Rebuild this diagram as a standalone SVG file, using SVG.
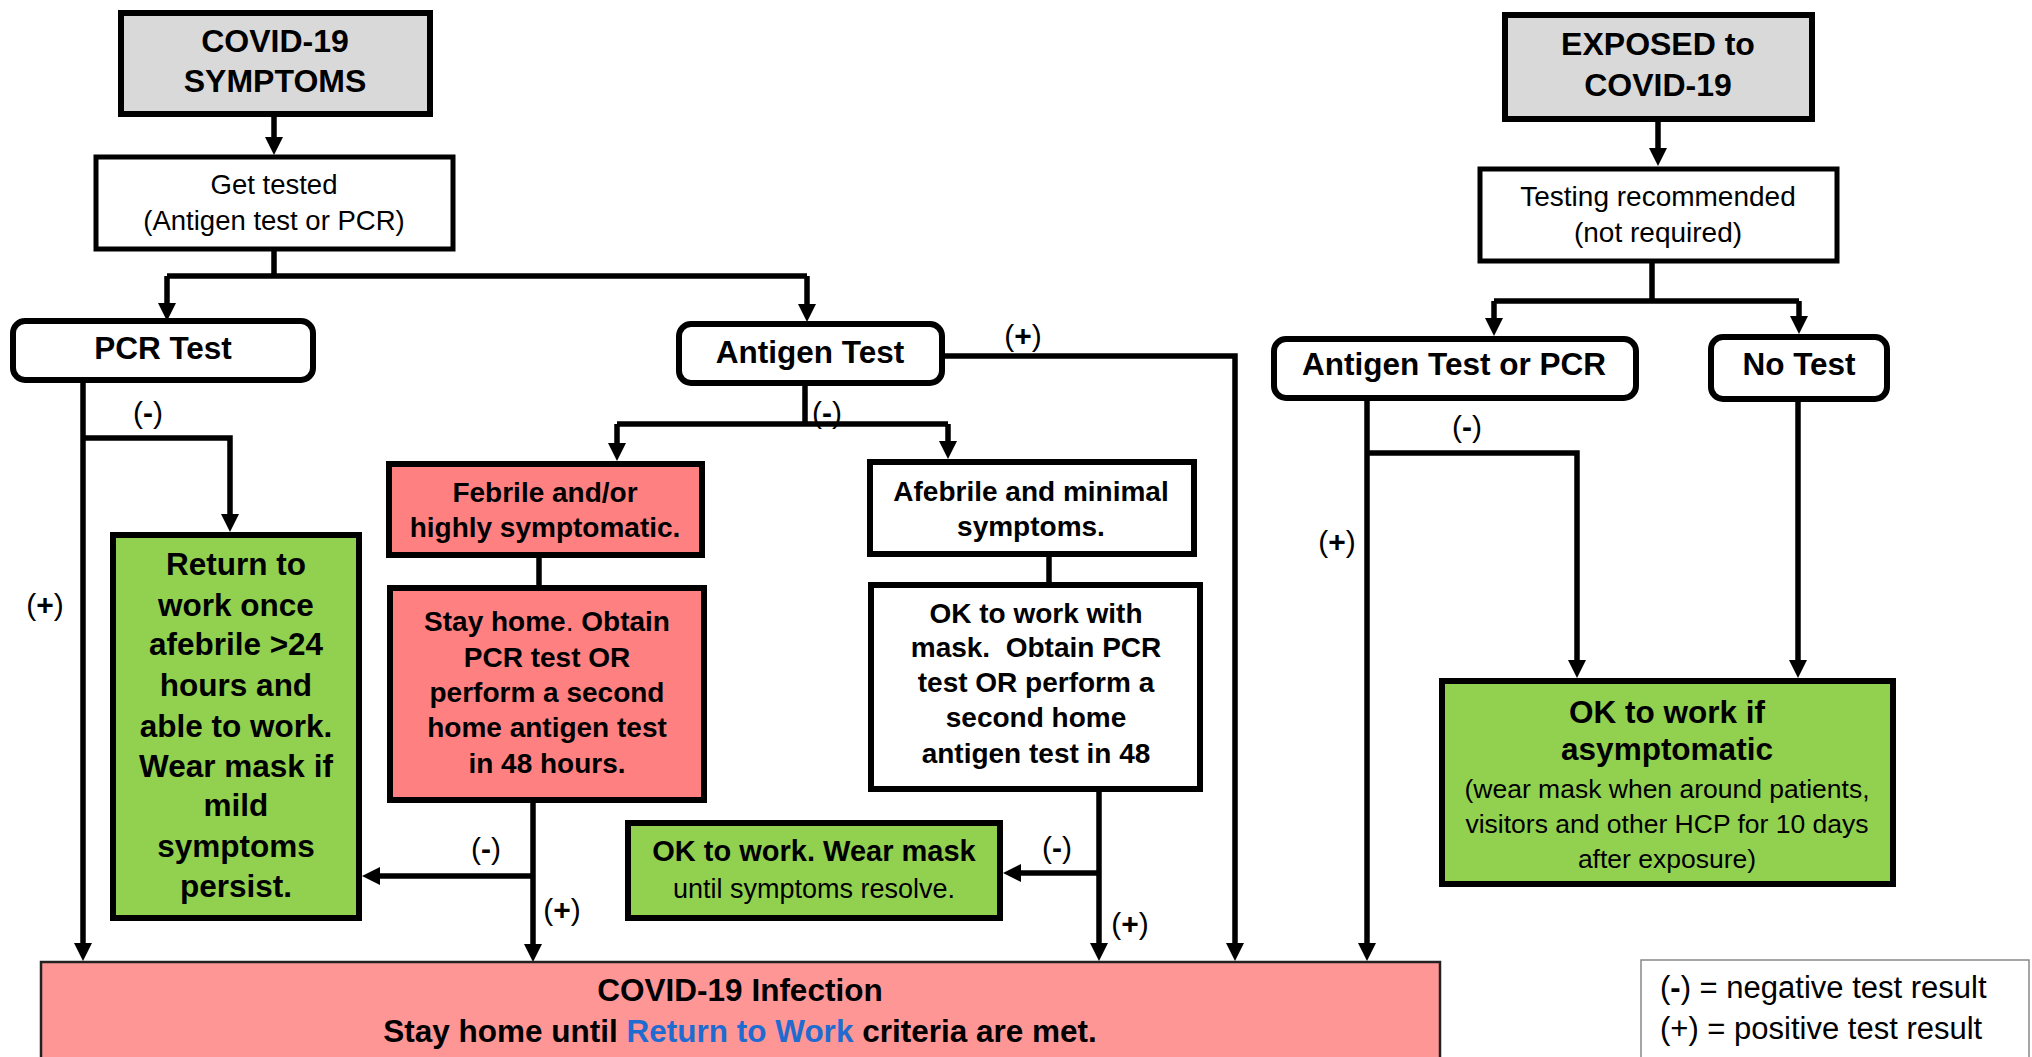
<svg xmlns="http://www.w3.org/2000/svg" width="2032" height="1057" viewBox="0 0 2032 1057">
<defs>
<style>
text{font-family:"Liberation Sans",Arial,sans-serif;fill:#000}
.b{font-weight:bold}
.c{text-anchor:middle}
.box{stroke:#000;stroke-width:6}
.gray{fill:#d9d9d9}
.white{fill:#fff}
.red{fill:#ff8080}
.green{fill:#92d050}
.f32{font-size:32px}
.f31{font-size:31.5px}
.f28{font-size:28px}
.f27{font-size:27.5px}
.f26{font-size:26.5px}
.lbl{font-size:30px;text-anchor:middle}
.ln{fill:none;stroke:#000;stroke-width:5.5}
.ar{marker-end:url(#arr)}
</style>
<marker id="arr" markerUnits="userSpaceOnUse" markerWidth="18" markerHeight="18" refX="8" refY="9" orient="auto">
<path d="M0,0 L18,9 L0,18 z" fill="#000"/>
</marker>
</defs>
<rect width="2032" height="1057" fill="#fff"/>

<g id="connectors">
<path class="ln ar" d="M274,116 V145"/>
<path class="ln" d="M274,250 V276 M167,276 H807"/>
<path class="ln ar" d="M167,276 V311"/>
<path class="ln ar" d="M807,276 V312"/>
<path class="ln ar" d="M83,380 V951"/>
<path class="ln ar" d="M83,438 H230 V522"/>
<path class="ln" d="M805,385 V424 M617,424 H948"/>
<path class="ln ar" d="M617,424 V451"/>
<path class="ln ar" d="M948,424 V449"/>
<path class="ln ar" d="M944,356 H1235 V951"/>
<path class="ln" d="M539,557 V587"/>
<path class="ln ar" d="M533,802 V952"/>
<path class="ln ar" d="M533,876 H372"/>
<path class="ln" d="M1049,556 V584"/>
<path class="ln ar" d="M1099,791 V951"/>
<path class="ln ar" d="M1099,873 H1013"/>
<path class="ln ar" d="M1658,121 V156"/>
<path class="ln" d="M1652,263 V301 M1494,301 H1799"/>
<path class="ln ar" d="M1494,301 V326"/>
<path class="ln ar" d="M1799,301 V324"/>
<path class="ln ar" d="M1367,400 V951"/>
<path class="ln ar" d="M1367,453 H1577 V668"/>
<path class="ln ar" d="M1798,401 V668"/>
</g>

<g id="labels">
<text class="lbl" x="148" y="423">(<tspan class="b">-</tspan>)</text>
<text class="lbl" x="45" y="615">(<tspan class="b">+</tspan>)</text>
<text class="lbl" x="827" y="423">(<tspan class="b">-</tspan>)</text>
<text class="lbl" x="1023" y="346">(<tspan class="b">+</tspan>)</text>
<text class="lbl" x="486" y="859">(<tspan class="b">-</tspan>)</text>
<text class="lbl" x="562" y="920">(<tspan class="b">+</tspan>)</text>
<text class="lbl" x="1057" y="858">(<tspan class="b">-</tspan>)</text>
<text class="lbl" x="1130" y="934">(<tspan class="b">+</tspan>)</text>
<text class="lbl" x="1467" y="437">(<tspan class="b">-</tspan>)</text>
<text class="lbl" x="1337" y="552">(<tspan class="b">+</tspan>)</text>
</g>

<g id="symptoms">
<rect class="box gray" x="121" y="13" width="309" height="101"/>
<text class="b c f32" x="275" y="52">COVID-19</text>
<text class="b c f32" x="275" y="92">SYMPTOMS</text>
</g>

<g id="get-tested">
<rect class="box white" x="96" y="157" width="357" height="92" style="stroke-width:5"/>
<text class="c f27" x="274" y="194">Get tested</text>
<text class="c f27" x="274" y="230">(Antigen test or PCR)</text>
</g>

<g id="pcr-test">
<rect class="box white" x="13" y="321" width="300" height="59" rx="12"/>
<text class="b c f31" x="163" y="359">PCR Test</text>
</g>

<g id="antigen-test">
<rect class="box white" x="679" y="324" width="263" height="59" rx="12"/>
<text class="b c f31" x="810" y="363">Antigen Test</text>
</g>

<g id="febrile">
<rect class="box red" x="389" y="464" width="313" height="91"/>
<text class="b c f28" x="545" y="502">Febrile and/or</text>
<text class="b c f28" x="545" y="537">highly symptomatic.</text>
</g>

<g id="stay-home">
<rect class="box red" x="390" y="588" width="314" height="212"/>
<text class="b c f28" x="547" y="631">Stay home<tspan style="font-weight:normal">.</tspan> Obtain</text>
<text class="b c f28" x="547" y="667">PCR test OR</text>
<text class="b c f28" x="547" y="702">perform a second</text>
<text class="b c f28" x="547" y="737">home antigen test</text>
<text class="b c f28" x="547" y="773">in 48 hours.</text>
</g>

<g id="afebrile">
<rect class="box white" x="870" y="462" width="324" height="92"/>
<text class="b c f28" x="1031" y="501">Afebrile and minimal</text>
<text class="b c f28" x="1031" y="536">symptoms.</text>
</g>

<g id="ok-mask">
<rect class="box white" x="871" y="585" width="329" height="204"/>
<text class="b c f28" x="1036" y="623">OK to work with</text>
<text class="b c f28" x="1036" y="657" xml:space="preserve">mask.  Obtain PCR</text>
<text class="b c f28" x="1036" y="692">test OR perform a</text>
<text class="b c f28" x="1036" y="727">second home</text>
<text class="b c f28" x="1036" y="763">antigen test in 48</text>
</g>

<g id="return-to-work">
<rect class="box green" x="113" y="535" width="246" height="383"/>
<text class="b c f31" x="236" y="575">Return to</text>
<text class="b c f31" x="236" y="616">work once</text>
<text class="b c f31" x="236" y="655">afebrile &gt;24</text>
<text class="b c f31" x="236" y="696">hours and</text>
<text class="b c f31" x="236" y="737">able to work.</text>
<text class="b c f31" x="236" y="777">Wear mask if</text>
<text class="b c f31" x="236" y="816">mild</text>
<text class="b c f31" x="236" y="857">symptoms</text>
<text class="b c f31" x="236" y="897">persist.</text>
</g>

<g id="ok-wear-mask">
<rect class="box green" x="628" y="823" width="372" height="95"/>
<text class="b c" x="814" y="861" style="font-size:29px">OK to work. Wear mask</text>
<text class="c" x="814" y="898" style="font-size:27px">until symptoms resolve.</text>
</g>

<g id="infection">
<rect x="41" y="962" width="1399" height="110" fill="#fe9696" stroke="#222" stroke-width="2.5"/>
<text class="b c f31" x="740" y="1001">COVID-19 Infection</text>
<text class="b c f31" x="740" y="1042">Stay home until <tspan fill="#1f6bd0" style="fill:#1f6bd0">Return to Work</tspan> criteria are met.</text>
</g>

<g id="exposed">
<rect class="box gray" x="1505" y="15" width="307" height="104"/>
<text class="b c f32" x="1658" y="55">EXPOSED to</text>
<text class="b c f32" x="1658" y="96">COVID-19</text>
</g>

<g id="testing-recommended">
<rect class="box white" x="1480" y="169" width="357" height="92" style="stroke-width:5"/>
<text class="c f28" x="1658" y="206">Testing recommended</text>
<text class="c f28" x="1658" y="242">(not required)</text>
</g>

<g id="antigen-or-pcr">
<rect class="box white" x="1274" y="339" width="362" height="59" rx="12"/>
<text class="b c f31" x="1454" y="375">Antigen Test or PCR</text>
</g>

<g id="no-test">
<rect class="box white" x="1711" y="337" width="176" height="62" rx="12"/>
<text class="b c f31" x="1799" y="375">No Test</text>
</g>

<g id="ok-asymptomatic">
<rect class="box green" x="1442" y="681" width="451" height="203"/>
<text class="b c f31" x="1667" y="723">OK to work if</text>
<text class="b c f31" x="1667" y="760">asymptomatic</text>
<text class="c f26" x="1667" y="798">(wear mask when around patients,</text>
<text class="c f26" x="1667" y="833">visitors and other HCP for 10 days</text>
<text class="c f26" x="1667" y="868">after exposure)</text>
</g>

<g id="legend">
<rect x="1641" y="960" width="388" height="110" fill="#fff" stroke="#888" stroke-width="1.5"/>
<text x="1660" y="998" style="font-size:31px">(<tspan class="b">-</tspan>) = negative test result</text>
<text x="1660" y="1039" style="font-size:31px">(+) = positive test result</text>
</g>
</svg>
